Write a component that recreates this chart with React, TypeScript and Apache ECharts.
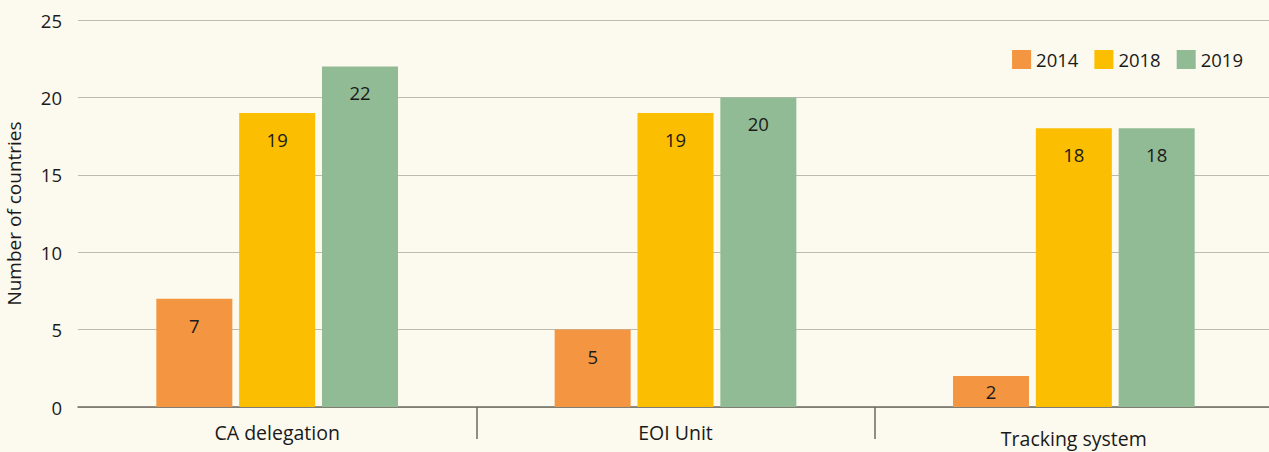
import React, { useEffect, useRef } from "react";
import * as echarts from "echarts";

const categories = ["CA delegation", "EOI Unit", "Tracking system"];
const years = ["2014", "2018", "2019"];
const values2014 = [7, 5, 2];
const values2018 = [19, 19, 18];
const values2019 = [22, 20, 18];
const yTicks = [0, 5, 10, 15, 20, 25];
const colors = ["#F39541", "#FBBE00", "#91BB94"];

const FONT = "'Open Sans', 'Noto Sans', sans-serif";

export default function App() {
  const ref = useRef<HTMLDivElement>(null);
  useEffect(() => {
    if (!ref.current) return;
    const chart = echarts.init(ref.current, undefined, { renderer: "svg" });
    const seriesData = [values2014, values2018, values2019];
    chart.setOption({
      animation: false,
      backgroundColor: "#FCF9EE",
      textStyle: { fontFamily: FONT },
      grid: { left: 78, right: -4, top: 20, bottom: 45, outerBoundsMode: "none", containLabel: false },
      legend: {
        data: years,
        right: 21,
        top: 45,
        itemWidth: 19,
        itemHeight: 19,
        itemGap: 16,
        icon: "rect",
        textStyle: { fontSize: 18.5, color: "#1a1a1a", fontFamily: FONT },
      },
      xAxis: {
        type: "category",
        data: categories.map((c, i) =>
          i === 2 ? { value: c, textStyle: { padding: [6, 0, 0, 0] } } : c
        ),
        axisLine: { lineStyle: { color: "#6d6a60", width: 1.5 } },
        axisTick: {
          show: true,
          length: 32,
          interval: (index: number) => index === 1 || index === 2,
          lineStyle: { color: "#6d6a60", width: 1.5 },
        },
        axisLabel: { fontSize: 19.5, color: "#1a1a1a", margin: 15, fontFamily: FONT },
      },
      yAxis: {
        type: "value",
        min: yTicks[0],
        max: yTicks[yTicks.length - 1],
        interval: 5,
        name: "Number of countries",
        nameLocation: "middle",
        nameGap: 55,
        nameTextStyle: { fontSize: 19, color: "#1a1a1a", fontFamily: FONT },
        axisLine: { show: false },
        axisTick: { show: false },
        axisLabel: { fontSize: 18.5, color: "#1a1a1a", margin: 16, fontFamily: FONT },
        splitLine: { lineStyle: { color: "#bdbab0", width: 1 } },
      },
      series: years.map((y, i) => ({
        name: y,
        type: "bar",
        data: seriesData[i].map((v) =>
          v < 4 ? { value: v, label: { position: "inside" } } : v
        ),
        barWidth: 76,
        barGap: "9%",
        itemStyle: { color: colors[i] },
        label: {
          show: true,
          position: "insideTop",
          distance: 17,
          fontSize: 18.5,
          color: "#1a1a1a",
          fontFamily: FONT,
        },
      })),
    });
    return () => chart.dispose();
  }, []);
  return (
    <div
      ref={ref}
      style={{ position: "fixed", left: 0, top: 0, width: 1269, height: 452 }}
    />
  );
}
